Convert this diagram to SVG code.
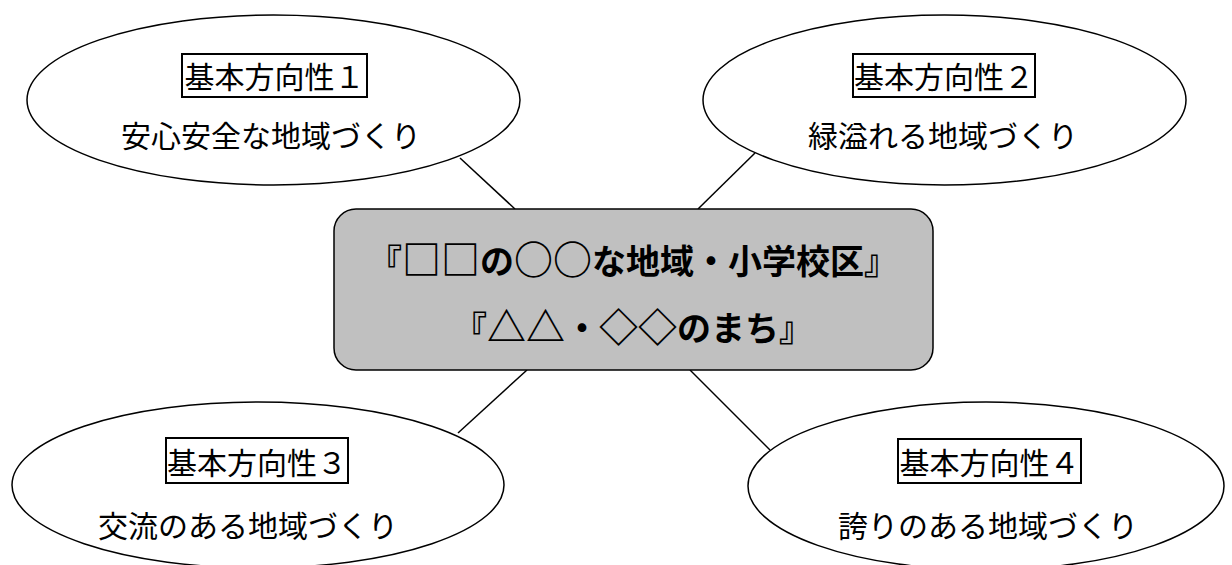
<svg xmlns="http://www.w3.org/2000/svg" width="1232" height="565" viewBox="0 0 1232 565">
<style>
  .ell { fill: #ffffff; stroke: #000000; stroke-width: 1.5; }
  .lbl { fill: #ffffff; stroke: #000000; stroke-width: 2; }
  .con { stroke: #000000; stroke-width: 1.5; fill: none; }
  .t { font-family: "Noto Sans CJK JP", "Noto Sans", sans-serif; font-size: 30px; fill: #000000; text-anchor: middle; }
  .c { font-family: "Noto Sans CJK JP", "Noto Sans", sans-serif; font-size: 34px; font-weight: bold; fill: #000000; text-anchor: middle; }
  .s { font-size: 39px; }
</style>
<rect width="1232" height="565" fill="#ffffff"/>
<g id="connectors">
  <line class="con" x1="460" y1="158" x2="515" y2="209"/>
  <line class="con" x1="755" y1="153" x2="698" y2="209"/>
  <line class="con" x1="527" y1="370" x2="458" y2="433"/>
  <line class="con" x1="690" y1="370" x2="770" y2="450"/>
</g>
<g id="node-center">
  <rect x="334" y="209" width="599" height="161" rx="22" ry="22" fill="#c0c0c0" stroke="#000000" stroke-width="1.5"/>
  <text class="c" x="633" y="274">『<tspan class="s">□□</tspan>の<tspan class="s">○○</tspan>な地域・小学校区』</text>
  <text class="c" x="633" y="341">『<tspan class="s">△△</tspan>・<tspan class="s">◇◇</tspan>のまち』</text>
</g>
<g id="node-1">
  <ellipse class="ell" cx="273.5" cy="100" rx="246.5" ry="85"/>
  <rect class="lbl" x="182" y="54" width="185" height="43"/>
  <text class="t" x="274.5" y="88">基本方向性１</text>
  <text class="t" x="271" y="147">安心安全な地域づくり</text>
</g>
<g id="node-2">
  <ellipse class="ell" cx="944.5" cy="100" rx="241.5" ry="85"/>
  <rect class="lbl" x="853" y="54" width="182" height="43"/>
  <text class="t" x="944" y="88">基本方向性２</text>
  <text class="t" x="943" y="147">緑溢れる地域づくり</text>
</g>
<g id="node-3">
  <ellipse class="ell" cx="258" cy="485" rx="246" ry="83"/>
  <rect class="lbl" x="166" y="438" width="182" height="45"/>
  <text class="t" x="257" y="474">基本方向性３</text>
  <text class="t" x="248" y="537">交流のある地域づくり</text>
</g>
<g id="node-4">
  <ellipse class="ell" cx="986" cy="486" rx="238" ry="84"/>
  <rect class="lbl" x="898" y="439" width="183" height="44"/>
  <text class="t" x="989.5" y="474">基本方向性４</text>
  <text class="t" x="988" y="537">誇りのある地域づくり</text>
</g>
</svg>
